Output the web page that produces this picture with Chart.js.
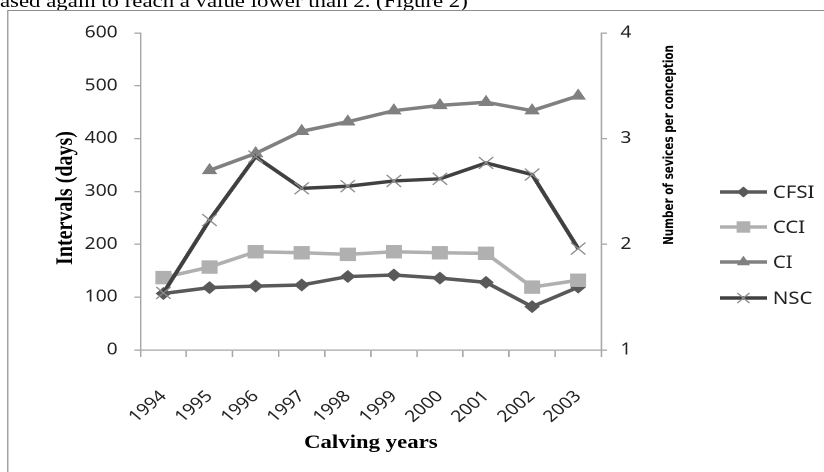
<!DOCTYPE html>
<html lang="en">
<head>
<meta charset="UTF-8">
<title>Calving intervals and services per conception</title>
<script src="https://cdn.jsdelivr.net/npm/chart.js@4"></script>
<style>
  html, body { margin: 0; padding: 0; background: #fff; overflow: hidden; width: 824px; height: 472px; }
  /* the source figure is stretched sideways, so the whole page is too */
  #page { position: absolute; left: 0; top: 0; width: 687px; height: 472px; transform: scaleX(1.2); transform-origin: 0 0; }
  #above { position: absolute; left: 0; top: -9.5px; font: 19px "Liberation Serif", serif; line-height: 19px; white-space: nowrap; color: #000; }
  #frame { position: absolute; left: 5.5px; top: 10px; width: 720px; height: 500px; border: 1.5px solid #8c8c8c; }
  #box { position: absolute; left: 0; top: 0; width: 687px; height: 472px; }
</style>
</head>
<body>
<div id="page">
  <div id="above">ased again to reach a value lower than 2. (Figure 2)</div>
  <div id="frame"></div>
  <div id="box"><canvas id="chart"></canvas></div>
</div>

<script>
// values
const years = ['1994', '1995', '1996', '1997', '1998', '1999', '2000', '2001', '2002', '2003'];
const cfsi = [107, 118, 121, 123, 139, 142, 136, 128, 82, 119];
const cci  = [137, 157, 186, 184, 181, 186, 184, 183, 119, 132];
const ci   = [null, 340, 372, 414, 432, 453, 463, 469, 453, 481];
const nsc  = [1.54, 2.23, 2.83, 2.53, 2.55, 2.60, 2.62, 2.77, 2.66, 1.96];

const xTitle = 'Calving years';
const leftTitle = 'Intervals (days)';
const rightTitle = 'Number of sevices per conception';
const tickFont = { family: 'Noto Sans', size: 16 };
const axisGray = '#a6a6a6';

// legend drawn as line + marker, like the spreadsheet one, plus the axis titles
const sideLegend = {
  id: 'sideLegend',
  afterDraw(chart) {
    const ctx = chart.ctx;
    const area = chart.chartArea;
    const x0 = area.right + 99;
    const rows = [192, 227, 262, 298];
    ctx.save();
    chart.data.datasets.forEach((ds, i) => {
      const y = rows[i];
      ctx.strokeStyle = ds.borderColor;
      ctx.lineWidth = ds.borderWidth;
      ctx.beginPath();
      ctx.moveTo(x0, y);
      ctx.lineTo(x0 + 39, y);
      ctx.stroke();
      ctx.fillStyle = ds.pointBackgroundColor;
      ctx.strokeStyle = ds.pointBorderColor;
      ctx.lineWidth = ds.pointBorderWidth;
      Chart.helpers.drawPoint(ctx, {
        pointStyle: ds.pointStyle, radius: ds.pointRadius * 0.85,
        borderWidth: ds.pointBorderWidth, rotation: 0
      }, x0 + 19.5, y);
      ctx.fillStyle = '#222';
      ctx.font = '17px "Noto Sans"';
      ctx.textAlign = 'left';
      ctx.textBaseline = 'middle';
      ctx.fillText(ds.label, x0 + 44, y + 1);
    });

    ctx.fillStyle = '#000';
    ctx.textAlign = 'center';

    // x title under the year labels
    ctx.font = 'bold 19px "Liberation Serif"';
    ctx.textBaseline = 'alphabetic';
    ctx.fillText(xTitle, (area.left + area.right) / 2, 448);

    // left title
    ctx.textBaseline = 'middle';
    ctx.font = 'bold 20px "Liberation Serif"';
    ctx.save();
    ctx.translate(55, 198);
    ctx.rotate(-Math.PI / 2);
    ctx.fillText(leftTitle, 0, 0);
    ctx.restore();

    // right axis title, read from bottom to top
    const fam = '"DejaVu Sans Condensed", "Open Sans", sans-serif';
    ctx.font = 'bold 13px ' + fam;
    const size = 13 * 200 / ctx.measureText(rightTitle).width;
    ctx.font = 'bold ' + size.toFixed(2) + 'px ' + fam;
    ctx.translate(area.right + 57, 145);
    ctx.rotate(-Math.PI / 2);
    ctx.fillText(rightTitle, 0, 0);
    ctx.restore();
  }
};

new Chart(document.getElementById('chart'), {
  type: 'line',
  data: {
    labels: years,
    datasets: [
      {
        label: 'CFSI', data: cfsi, yAxisID: 'y', order: 3,
        borderColor: '#595959', borderWidth: 3.5,
        pointStyle: 'rectRot', pointRadius: 6.5,
        pointBackgroundColor: '#595959', pointBorderColor: '#595959', pointBorderWidth: 0
      },
      {
        label: 'CCI', data: cci, yAxisID: 'y', order: 2,
        borderColor: '#b0b0b0', borderWidth: 3.5,
        pointStyle: 'rect', pointRadius: 9.5,
        pointBackgroundColor: '#b0b0b0', pointBorderColor: '#b0b0b0', pointBorderWidth: 0
      },
      {
        label: 'CI', data: ci, yAxisID: 'y', order: 1,
        borderColor: '#808080', borderWidth: 3.5,
        pointStyle: 'triangle', pointRadius: 7.5,
        pointBackgroundColor: '#808080', pointBorderColor: '#808080', pointBorderWidth: 0
      },
      {
        label: 'NSC', data: nsc, yAxisID: 'y1', order: 0,
        borderColor: '#404040', borderWidth: 3.5,
        pointStyle: 'crossRot', pointRadius: 8.5,
        pointBackgroundColor: '#8c8c8c', pointBorderColor: '#8c8c8c', pointBorderWidth: 1.2
      }
    ]
  },
  options: {
    responsive: true,
    maintainAspectRatio: false,
    devicePixelRatio: 2,
    animation: false,
    events: [],
    layout: { padding: { left: 0, right: 106, top: 33, bottom: 0 } },
    plugins: { legend: { display: false }, tooltip: { enabled: false } },
    elements: { line: { tension: 0 } },
    scales: {
      x: {
        offset: true,
        grid: { offset: true, drawOnChartArea: false, tickLength: 7, color: axisGray, lineWidth: 1.3 },
        border: { color: axisGray, width: 1.3 },
        ticks: { autoSkip: false, minRotation: 45, maxRotation: 45, padding: 30, color: '#222', font: tickFont },
        afterFit(s) { s.height = 122; }
      },
      y: {
        position: 'left', min: 0, max: 600,
        grid: { drawOnChartArea: false, tickLength: 5, color: axisGray, lineWidth: 1.3 },
        border: { color: axisGray, width: 1.3 },
        ticks: { stepSize: 100, padding: 14, color: '#222', font: tickFont },
        afterFit(s) { s.width = 117; }
      },
      y1: {
        position: 'right', min: 1, max: 4,
        grid: { drawOnChartArea: false, tickLength: 5, color: axisGray, lineWidth: 1.3 },
        border: { color: axisGray, width: 1.3 },
        ticks: { stepSize: 1, padding: 11, color: '#222', font: tickFont },
        afterFit(s) { s.width = 80; }
      }
    }
  },
  plugins: [sideLegend]
});
</script>
</body>
</html>
